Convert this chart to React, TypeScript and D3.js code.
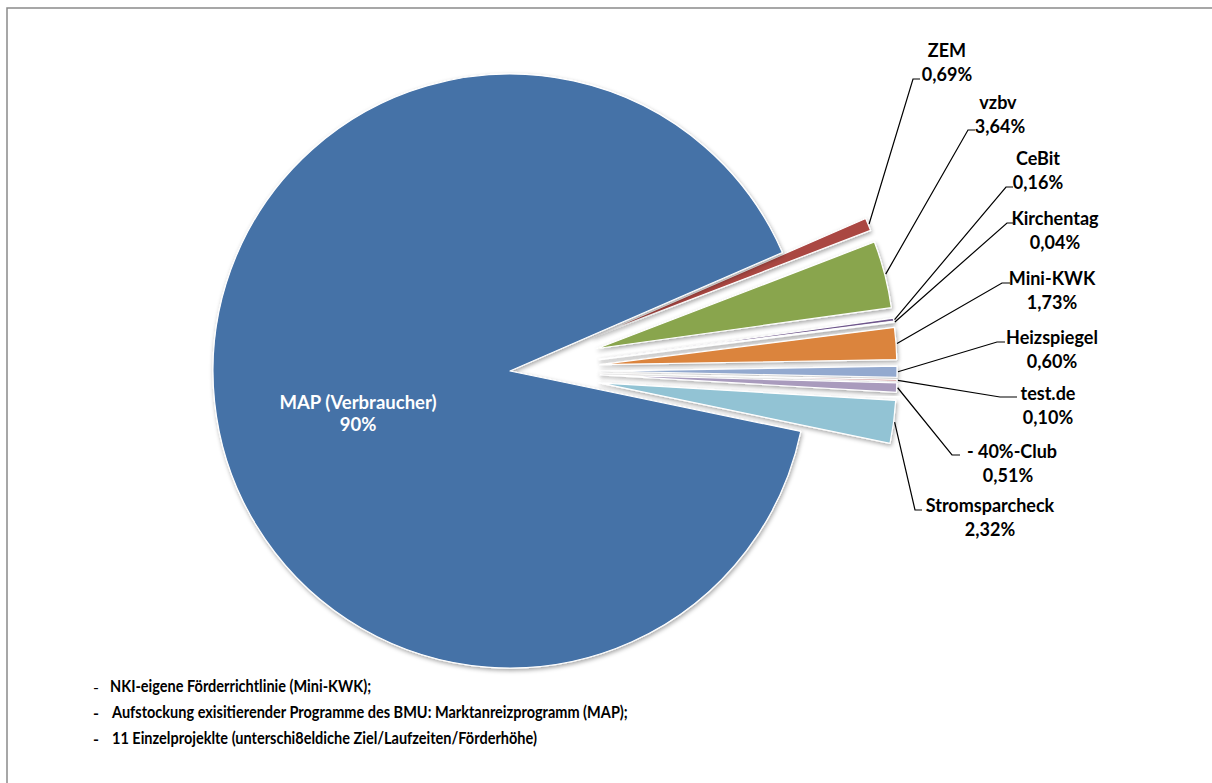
import React from "react";
import * as d3 from "d3";

const categories = ["ZEM", "vzbv", "CeBit", "Kirchentag", "Mini-KWK", "Heizspiegel", "test.de", "- 40%-Club", "Stromsparcheck", "MAP (Verbraucher)"];
const values = [0.69, 3.64, 0.16, 0.04, 1.73, 0.60, 0.10, 0.51, 2.32, 90.21];
const valueLabels = ["0,69%", "3,64%", "0,16%", "0,04%", "1,73%", "0,60%", "0,10%", "0,51%", "2,32%", "90%"];
const colors = ["#AA4643", "#89A54E", "#71588F", "#4198AF", "#DB843D", "#93A9CF", "#D19392", "#A99BBD", "#92C3D4", "#4572A7"];
const exploded = [true, true, true, true, true, true, true, true, true, false];
const notes = [
  "NKI-eigene Förderrichtlinie (Mini-KWK);",
  "Aufstockung exisitierender Programme des BMU: Marktanreizprogramm (MAP);",
  "11 Einzelprojeklte (unterschi8eldiche Ziel/Laufzeiten/Förderhöhe)",
];

// layout for outside labels: text center x, first line center y, elbow point, end x
const labelLayout = [
  { cx: 947, cy: 50, ex: 913, ey: 79, endX: 920, cx2: 947 },
  { cx: 998, cy: 102, ex: 968, ey: 130, endX: 975, cx2: 1000 },
  { cx: 1038, cy: 158, ex: 1006, ey: 187, endX: 1013, cx2: 1038 },
  { cx: 1055, cy: 218, ex: 1007, ey: 223, endX: 1013, cx2: 1055 },
  { cx: 1052, cy: 278, ex: 1002, ey: 283, endX: 1010, cx2: 1052 },
  { cx: 1052, cy: 337, ex: 997, ey: 342, endX: 1005, cx2: 1052 },
  { cx: 1048, cy: 393, ex: 1000, ey: 397, endX: 1017, cx2: 1048 },
  { cx: 1012, cy: 451, ex: 952, ey: 455, endX: 960, cx2: 1008 },
  { cx: 990, cy: 505, ex: 915, ey: 510, endX: 922, cx2: 990 },
];

const W = 1212;
const H = 783;
const CX = 510;
const CY = 371;
const R = 297;
const EXPLODE = 90;
const START_DEG = 66.5;
const FONT = "Lato, 'Open Sans', sans-serif";

export default function App() {
  const pie = d3
    .pie<number>()
    .value((d) => d)
    .sort(null)
    .startAngle((START_DEG * Math.PI) / 180)
    .endAngle(((START_DEG + 360) * Math.PI) / 180);
  const arcs = pie(values);
  const arc = d3.arc<d3.PieArcDatum<number>>().innerRadius(0).outerRadius(R);

  const offsetOf = (a: d3.PieArcDatum<number>, i: number) => {
    if (!exploded[i]) return [0, 0];
    const m = (a.startAngle + a.endAngle) / 2;
    return [Math.sin(m) * EXPLODE, -Math.cos(m) * EXPLODE];
  };

  return (
    <svg width={W} height={H} style={{ position: "absolute", left: 0, top: 0, background: "#fff" }} fontFamily={FONT}>
      <defs>
        <filter id="sh" x="-20%" y="-20%" width="140%" height="140%">
          <feDropShadow dx="1" dy="2" stdDeviation="2" floodColor="#000" floodOpacity="0.35" />
        </filter>
      </defs>
      <rect x={7} y={8} width={W + 20} height={H + 20} fill="#fff" stroke="#8a8a8a" strokeWidth={1.5} />
      <g transform={`translate(${CX},${CY})`}>
        {arcs.map((a, i) => {
          const [dx, dy] = offsetOf(a, i);
          return (
            <path
              key={i}
              d={arc(a) || ""}
              transform={`translate(${dx},${dy})`}
              fill={colors[i]}
              stroke="#fff"
              strokeWidth={1.2}
              strokeLinejoin="round"
              filter="url(#sh)"
            />
          );
        })}
      </g>
      {arcs.slice(0, 9).map((a, i) => {
        const [dx, dy] = offsetOf(a, i);
        const m = (a.startAngle + a.endAngle) / 2;
        const sx = CX + dx + Math.sin(m) * (R + 1);
        const sy = CY + dy - Math.cos(m) * (R + 1);
        const L = labelLayout[i];
        return (
          <g key={"l" + i}>
            <polyline points={`${sx},${sy} ${L.ex},${L.ey} ${L.endX},${L.ey}`} fill="none" stroke="#000" strokeWidth={1.2} />
            <text x={L.cx} y={L.cy} textAnchor="middle" dominantBaseline="central" fontWeight="bold" fontSize={18} fill="#000">
              {categories[i]}
            </text>
            <text x={L.cx2} y={L.cy + 24} textAnchor="middle" dominantBaseline="central" fontWeight="bold" fontSize={18} fill="#000">
              {valueLabels[i]}
            </text>
          </g>
        );
      })}
      <text x={358} y={402} textAnchor="middle" dominantBaseline="central" fontWeight="bold" fontSize={18.5} fill="#fff">
        {categories[9]}
      </text>
      <text x={358} y={424} textAnchor="middle" dominantBaseline="central" fontWeight="bold" fontSize={18.5} fill="#fff">
        {valueLabels[9]}
      </text>
      {notes.map((n, i) => (
        <g key={"n" + i}>
          <text x={93} y={686 + i * 26} dominantBaseline="central" fontSize={16} fill="#000" fontWeight={i === 0 ? "normal" : "bold"}>
            -
          </text>
          <text
            transform={`translate(${i === 0 ? 110 : 112},${686 + i * 26}) scale(0.88,1)`}
            dominantBaseline="central"
            fontSize={16.5}
            fontWeight="bold"
            fill="#000"
          >
            {n}
          </text>
        </g>
      ))}
    </svg>
  );
}
